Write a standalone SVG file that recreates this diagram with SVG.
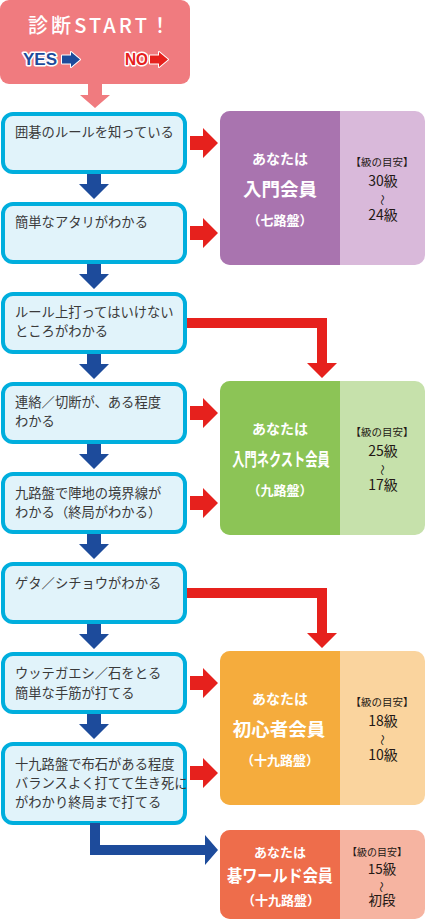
<svg xmlns="http://www.w3.org/2000/svg" width="425" height="920" viewBox="0 0 425 920">
<style>
.q{fill:#E1F3FA;stroke:#00AEDD;stroke-width:4}
.qt{font-family:"Noto Sans CJK JP","Noto Sans",sans-serif;font-size:13.3px;fill:#3a3a3a}
.red{fill:#E6211D}
.blue{fill:#1D4B9B}
.rl{font-family:"Noto Sans CJK JP","Noto Sans",sans-serif;font-weight:700;fill:#fff;text-anchor:middle}
.rr{font-family:"Noto Sans CJK JP","Noto Sans",sans-serif;fill:#231815;text-anchor:middle}
.yn{font-family:"Liberation Sans",Arial,sans-serif;font-weight:700;font-size:16px;stroke:#fff;stroke-width:3;paint-order:stroke;stroke-linejoin:round}
</style>
<defs>
<path id="dn" d="M-7 0H7V10H15L0 25L-15 10H-7Z"/>
<path id="rt" d="M0 -7H13V-15L28 0L13 15V7H0Z"/>
</defs>

<g id="start">
<rect x="0" y="0" width="190" height="84" rx="9" fill="#F07B7F"/>
<path d="M88 83H102V95H110L95 108L80 95H88Z" fill="#F07B7F"/>
<text x="28" y="33" font-family="'Noto Sans CJK JP',sans-serif" font-size="20" font-weight="500" fill="#fff" textLength="142" lengthAdjust="spacing">診断START！</text>
<text class="yn" x="23" y="65" fill="#1D4B9B" textLength="34" lengthAdjust="spacingAndGlyphs">YES</text>
<path d="M62 55.5H71V52L80 59.5L71 67V63.5H62Z" fill="#1D4B9B" stroke="#fff" stroke-width="2" paint-order="stroke" stroke-linejoin="round"/>
<text class="yn" x="125" y="65" fill="#E6211D" textLength="23" lengthAdjust="spacingAndGlyphs">NO</text>
<path d="M150 55.5H159V52L168 59.5L159 67V63.5H150Z" fill="#E6211D" stroke="#fff" stroke-width="2" paint-order="stroke" stroke-linejoin="round"/>
</g>

<g id="q1"><rect class="q" x="3" y="114" width="182" height="58" rx="10"/>
<text class="qt" x="15" y="137">囲碁のルールを知っている</text></g>
<g id="q2"><rect class="q" x="3" y="204" width="182" height="58" rx="10"/>
<text class="qt" x="15" y="227">簡単なアタリがわかる</text></g>
<g id="q3"><rect class="q" x="3" y="294" width="182" height="58" rx="10"/>
<text class="qt" x="15" y="317">ルール上打ってはいけない</text>
<text class="qt" x="15" y="336">ところがわかる</text></g>
<g id="q4"><rect class="q" x="3" y="384" width="182" height="58" rx="10"/>
<text class="qt" x="15" y="407">連絡／切断が、ある程度</text>
<text class="qt" x="15" y="426">わかる</text></g>
<g id="q5"><rect class="q" x="3" y="474" width="182" height="58" rx="10"/>
<text class="qt" x="15" y="498">九路盤で陣地の境界線が</text>
<text class="qt" x="15" y="517">わかる（終局がわかる）</text></g>
<g id="q6"><rect class="q" x="3" y="564" width="182" height="58" rx="10"/>
<text class="qt" x="15" y="588">ゲタ／シチョウがわかる</text></g>
<g id="q7"><rect class="q" x="3" y="654" width="182" height="58" rx="10"/>
<text class="qt" x="15" y="678">ウッテガエシ／石をとる</text>
<text class="qt" x="15" y="698">簡単な手筋が打てる</text></g>
<g id="q8"><rect class="q" x="3" y="744" width="182" height="79" rx="10"/>
<text class="qt" x="15" y="769">十九路盤で布石がある程度</text>
<text class="qt" x="15" y="788">バランスよく打てて生き死に</text>
<text class="qt" x="15" y="807">がわかり終局まで打てる</text></g>

<g id="connectors">
<use href="#dn" x="94" y="174" class="blue"/>
<use href="#dn" x="94" y="264" class="blue"/>
<use href="#dn" x="94" y="354" class="blue"/>
<use href="#dn" x="94" y="444" class="blue"/>
<use href="#dn" x="94" y="534" class="blue"/>
<use href="#dn" x="94" y="624" class="blue"/>
<use href="#dn" x="94" y="714" class="blue"/>
<use href="#rt" x="190" y="143" class="red"/>
<use href="#rt" x="190" y="233" class="red"/>
<use href="#rt" x="190" y="413" class="red"/>
<use href="#rt" x="190" y="503" class="red"/>
<use href="#rt" x="190" y="683" class="red"/>
<use href="#rt" x="190" y="773" class="red"/>
<path class="red" d="M187 318H327V363H337L322 378L307 363H317V328H187Z"/>
<path class="red" d="M187 588H327V633H337L322 648L307 633H317V598H187Z"/>
<path class="blue" d="M90 823H100V845H205V835L218 850L205 865V855H90Z"/>
</g>

<g id="r1">
<rect x="220" y="111" width="205" height="154" rx="10" fill="#D9B9DA"/>
<path d="M230 111H340V265H230A10 10 0 0 1 220 255V121A10 10 0 0 1 230 111Z" fill="#A974AF"/>
<text class="rl" x="280" y="164" font-size="14">あなたは</text>
<text class="rl" x="280" y="196" font-size="18.5">入門会員</text>
<text class="rl" x="280" y="225" font-size="13">（七路盤）</text>
<text class="rr" x="382" y="165.5" font-size="10.5">【級の目安】</text>
<text class="rr" x="383" y="186" font-size="14">30級</text>
<text class="rr" x="383" y="200" font-size="11" dominant-baseline="central" transform="rotate(90 383 200)">〜</text>
<text class="rr" x="383" y="220" font-size="14">24級</text>
</g>

<g id="r2">
<rect x="220" y="381" width="205" height="154" rx="10" fill="#C6E1AB"/>
<path d="M230 381H340V535H230A10 10 0 0 1 220 525V391A10 10 0 0 1 230 381Z" fill="#8CC456"/>
<text class="rl" x="280" y="434" font-size="14">あなたは</text>
<text class="rl" x="0" y="0" font-size="18.5" transform="translate(281 466) scale(0.662 1)">入門ネクスト会員</text>
<text class="rl" x="280" y="495" font-size="13">（九路盤）</text>
<text class="rr" x="382" y="435.5" font-size="10.5">【級の目安】</text>
<text class="rr" x="383" y="456" font-size="14">25級</text>
<text class="rr" x="383" y="470" font-size="11" dominant-baseline="central" transform="rotate(90 383 470)">〜</text>
<text class="rr" x="383" y="490" font-size="14">17級</text>
</g>

<g id="r3">
<rect x="220" y="651" width="205" height="154" rx="10" fill="#FAD49E"/>
<path d="M230 651H340V805H230A10 10 0 0 1 220 795V661A10 10 0 0 1 230 651Z" fill="#F5AC3D"/>
<text class="rl" x="280" y="704" font-size="14">あなたは</text>
<text class="rl" x="279" y="736" font-size="18.5">初心者会員</text>
<text class="rl" x="280" y="765" font-size="13">（十九路盤）</text>
<text class="rr" x="382" y="705.5" font-size="10.5">【級の目安】</text>
<text class="rr" x="383" y="726" font-size="14">18級</text>
<text class="rr" x="383" y="740" font-size="11" dominant-baseline="central" transform="rotate(90 383 740)">〜</text>
<text class="rr" x="383" y="760" font-size="14">10級</text>
</g>

<g id="r4">
<rect x="220" y="830" width="205" height="89" rx="10" fill="#F6B4A1"/>
<path d="M230 830H340V919H230A10 10 0 0 1 220 909V840A10 10 0 0 1 230 830Z" fill="#EE6D4B"/>
<text class="rl" x="280" y="857" font-size="13">あなたは</text>
<text class="rl" x="280" y="882" font-size="17" textLength="106" lengthAdjust="spacingAndGlyphs">碁ワールド会員</text>
<text class="rl" x="281" y="905" font-size="13">（十九路盤）</text>
<text class="rr" x="377" y="856" font-size="10">【級の目安】</text>
<text class="rr" x="382" y="874" font-size="13.5">15級</text>
<text class="rr" x="382" y="887" font-size="11" dominant-baseline="central" transform="rotate(90 382 887)">〜</text>
<text class="rr" x="382" y="905" font-size="13.5">初段</text>
</g>
</svg>
